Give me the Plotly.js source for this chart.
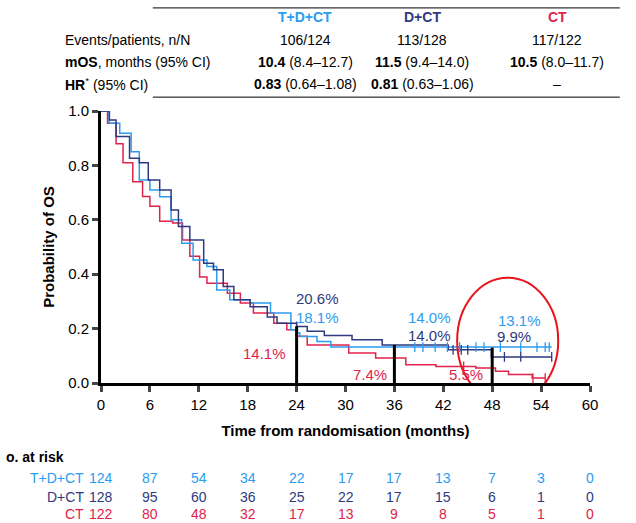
<!DOCTYPE html>
<html><head><meta charset="utf-8">
<script src="https://cdn.plot.ly/plotly-3.0.1.min.js"></script>
<style>body{margin:0;background:#fff}#plot{width:636px;height:523px}</style>
</head><body><div id="plot"></div>
<script>
// Kaplan-Meier step points (months, survival)
const tdctT = [0,1.0,2.3,3.7,4.7,6.0,7.2,8.6,9.9,11.3,13.0,14.2,15.8,18.3,20.8,23.3,24.1,24.4,26.5,28.2,55.3];
const tdctS = [1,0.955,0.918,0.85,0.746,0.71,0.685,0.60,0.514,0.452,0.428,0.342,0.306,0.294,0.257,0.196,0.184,0.171,0.153,0.132,0.132];
const dctT = [0,1.03,1.85,3.5,4.7,5.8,7.2,8.6,9.5,10.9,12.6,13.8,15.0,16.3,18.3,20.4,21.6,24.0,25.3,27.4,30.8,34.5,42.6,47.9,55.3];
const dctS = [1,0.967,0.906,0.826,0.81,0.746,0.71,0.636,0.575,0.526,0.44,0.416,0.355,0.306,0.28,0.243,0.22,0.208,0.19,0.175,0.159,0.14,0.122,0.096,0.096];
const ctT = [0,0.8,1.85,2.7,3.9,5.1,6.0,7.2,8.8,10.0,10.9,12.1,13.0,15.5,17.1,18.7,21.2,22.8,24.0,25.3,30.4,33.7,37.4,41.1,46.0,48.4,50.0,52.9,54.5];
const ctS = [1,0.955,0.88,0.81,0.74,0.686,0.65,0.595,0.588,0.526,0.466,0.39,0.367,0.33,0.294,0.257,0.22,0.196,0.172,0.14,0.11,0.092,0.067,0.061,0.055,0.043,0.031,0.018,0.018];
// censoring marks
const tdctCens = [38.5,39.5,41,42.5,44,46,47,49,51.5,53.5,54.5,55];
const dctCens = [24,43.2,44.2,45,49.5,51.5,55.3];
const ctCens = [44.5,53,54.5];

const riskTimes = [0,6,12,18,24,30,36,42,48,54,60];
const riskTDCT = [124,87,54,34,22,17,17,13,7,3,0];
const riskDCT = [128,95,60,36,25,22,17,15,6,1,0];
const riskCT = [122,80,48,32,17,13,9,8,5,1,0];

const C_TDCT = '#2b9cf0', C_DCT = '#2e3a80', C_CT = '#e0234a';
const FONT = 'Liberation Sans, Arial, sans-serif';

function km(t, s, col) {
  return {x: t, y: s, type: 'scatter', mode: 'lines', line: {shape: 'hv', color: col, width: 1.5}, hoverinfo: 'none'};
}
function stepAt(t, s, x) { let v = s[0]; for (let i = 0; i < t.length; i++) if (t[i] <= x) v = s[i]; return v; }
function cens(ts, t, s, col) {
  return {x: ts, y: ts.map(x => stepAt(t, s, x)), type: 'scatter', mode: 'markers',
    marker: {symbol: 'line-ns', size: 7, line: {color: col, width: 1.3}}, hoverinfo: 'none'};
}

const traces = [km(ctT, ctS, C_CT), km(tdctT, tdctS, C_TDCT), km(dctT, dctS, C_DCT),
  cens(ctCens, ctT, ctS, C_CT), cens(tdctCens, tdctT, tdctS, C_TDCT), cens(dctCens, dctT, dctS, C_DCT)];

const shapes = [];
[[24, 0.208], [36, 0.14], [48, 0.13]].forEach(([x, y]) => shapes.push({type: 'line', x0: x, x1: x, y0: 0, y1: y, line: {color: '#000', width: 3}}));
shapes.push({type: 'circle', xref: 'x', yref: 'y', x0: 43.7, x1: 56.1, y0: -0.076, y1: 0.387, line: {color: '#e8141c', width: 2}});
shapes.push({type: 'line', xref: 'paper', yref: 'paper', x0: 0.106, x1: 1.061, y0: 1.379, y1: 1.379, line: {color: '#000', width: 1}});
shapes.push({type: 'line', xref: 'paper', yref: 'paper', x0: 0.106, x1: 1.061, y0: 1.051, y1: 1.051, line: {color: '#000', width: 1}});

const ann = [];
function A(x, y, text, col, opts, size) {
  ann.push(Object.assign({x: x, y: y, text: text, showarrow: false, xanchor: 'center', yanchor: 'middle',
    font: {family: FONT, size: size || 14, color: col || '#000'}}, opts || {}));
}
// percent labels
A(26.6, 0.31, '20.6%', C_DCT, {}, 15);
A(26.6, 0.24, '18.1%', C_TDCT, {}, 15);
A(20.1, 0.11, '14.1%', C_CT, {}, 15);
A(33.0, 0.03, '7.4%', C_CT, {}, 15);
A(40.3, 0.24, '14.0%', C_TDCT, {}, 15);
A(40.3, 0.175, '14.0%', C_DCT, {}, 15);
A(44.8, 0.03, '5.5%', C_CT, {}, 15);
A(51.3, 0.23, '13.1%', C_TDCT, {}, 15);
A(50.7, 0.17, '9.9%', C_DCT, {}, 15);

// summary table
const P = {xref: 'paper', yref: 'paper'};
const PL = {xref: 'paper', yref: 'paper', xanchor: 'left'};
const colX = [(305 - 101) / 489, (422 - 101) / 489, (557 - 101) / 489];
const rowY = [(383 - 17) / 272, (383 - 40) / 272, (383 - 62) / 272, (383 - 84) / 272];
const lx = (63 - 101) / 489;
A(colX[0], rowY[0], '<b>T+D+CT</b>', C_TDCT, P);
A(colX[1], rowY[0], '<b>D+CT</b>', C_DCT, P);
A(colX[2], rowY[0], '<b>CT</b>', C_CT, P);
A(lx, rowY[1], 'Events/patients, n/N', '#000', PL);
A(lx, rowY[2], '<b>mOS</b>, months (95% CI)', '#000', PL);
A(lx, rowY[3], '<b>HR</b><sup>*</sup> (95% CI)', '#000', PL);
['106/124', '113/128', '117/122'].forEach((t, i) => A(colX[i], rowY[1], t, '#000', P));
['<b>10.4</b> (8.4–12.7)', '<b>11.5</b> (9.4–14.0)', '<b>10.5</b> (8.0–11.7)'].forEach((t, i) => A(colX[i], rowY[2], t, '#000', P));
['<b>0.83</b> (0.64–1.08)', '<b>0.81</b> (0.63–1.06)', '–'].forEach((t, i) => A(colX[i], rowY[3], t, '#000', P));

// number at risk
A((4 - 101) / 489, (383 - 457) / 272, '<b>o. at risk</b>', '#000', PL);
const rows = [['T+D+CT', riskTDCT, C_TDCT, 478], ['D+CT', riskDCT, C_DCT, 497], ['CT', riskCT, C_CT, 514]];
rows.forEach(([lab, vals, col, py]) => {
  const yy = (383 - py) / 272;
  A((86 - 101) / 489, yy, lab, col, {xref: 'paper', yref: 'paper', xanchor: 'right'});
  vals.forEach((v, i) => A(riskTimes[i], yy, String(v), col, {xref: 'x', yref: 'paper'}));
});

const layout = {
  width: 636, height: 523, margin: {l: 101, r: 46, t: 111, b: 140},
  paper_bgcolor: '#fff', plot_bgcolor: '#fff', showlegend: false,
  font: {family: FONT, size: 14, color: '#000'},
  xaxis: {range: [0, 60], tickvals: riskTimes, showline: true, linewidth: 3, linecolor: '#000',
    ticks: 'outside', ticklen: 6, tickwidth: 3, showgrid: false, zeroline: false,
    tickfont: {family: FONT, size: 15},
    title: {text: '<b>Time from randomisation (months)</b>', font: {family: FONT, size: 15}, standoff: 14}},
  yaxis: {range: [0, 1], tickvals: [0, 0.2, 0.4, 0.6, 0.8, 1], ticktext: ['0.0', '0.2', '0.4', '0.6', '0.8', '1.0'],
    showline: true, linewidth: 3, linecolor: '#000', ticks: 'outside', ticklen: 6, tickwidth: 3,
    showgrid: false, zeroline: false, tickfont: {family: FONT, size: 15},
    title: {text: '<b>Probability of OS</b>', font: {family: FONT, size: 15}, standoff: 10}},
  shapes: shapes, annotations: ann
};
Plotly.newPlot('plot', traces, layout, {displayModeBar: false, staticPlot: true});
</script></body></html>
